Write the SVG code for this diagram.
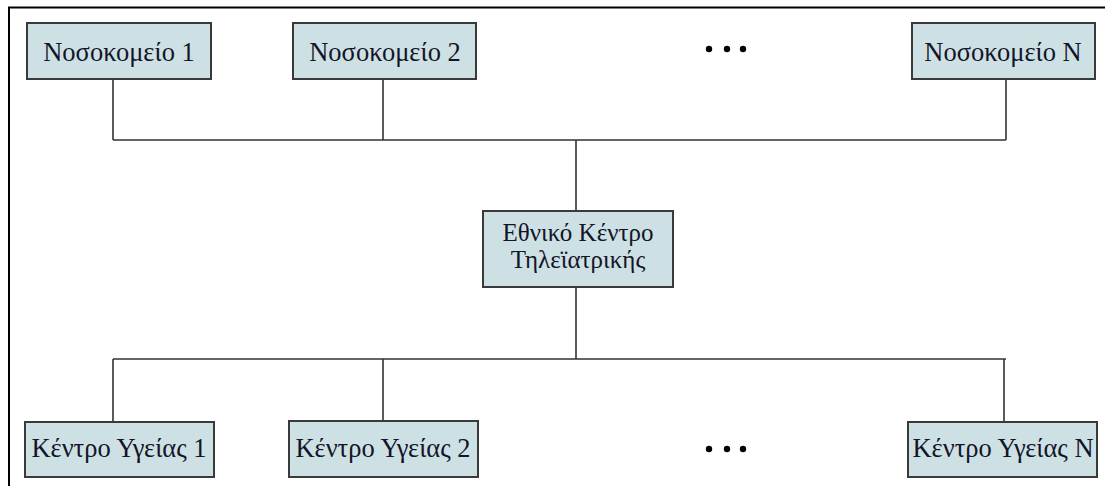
<svg xmlns="http://www.w3.org/2000/svg" width="1105" height="486" viewBox="0 0 1105 486">
  <style>
    .box { fill: #cde1e5; stroke: #3a3a3a; stroke-width: 2; }
    .lbl { font-family: "Liberation Serif", "Times New Roman", serif; font-size: 26.5px; fill: #141428; text-anchor: middle; }
    .lbl2 { font-size: 25px; }
    .wire { fill: none; stroke: #333; stroke-width: 1.6; }
    .dot { fill: #000; }
  </style>
  <rect width="1105" height="486" fill="#fff"/>
  <!-- outer frame: only top and left edges fall inside the page -->
  <path d="M9,490 V7.5 H1110" fill="none" stroke="#000" stroke-width="2"/>

  <g id="connectors">
    <path class="wire" d="M113,79 V140 M383,79 V140 M1006,79 V140 M113,140 H1006"/>
    <path class="wire" d="M576,140 V211"/>
    <path class="wire" d="M576,287 V359"/>
    <path class="wire" d="M113,359 H1006 M113,359 V422 M383,359 V421 M1004,359 V422"/>
  </g>

  <g id="hospital-1">
    <rect class="box" x="27" y="23" width="184" height="56"/>
    <text class="lbl" x="119" y="61">Νοσοκομείο 1</text>
  </g>
  <g id="hospital-2">
    <rect class="box" x="293" y="23" width="183" height="56"/>
    <text class="lbl" x="385" y="61">Νοσοκομείο 2</text>
  </g>
  <g id="hospital-dots">
    <circle class="dot" cx="709" cy="49" r="3.2"/>
    <circle class="dot" cx="727" cy="49" r="3.2"/>
    <circle class="dot" cx="743" cy="49" r="3.2"/>
  </g>
  <g id="hospital-n">
    <rect class="box" x="912" y="23" width="183" height="56"/>
    <text class="lbl" x="1003" y="61">Νοσοκομείο N</text>
  </g>

  <g id="national-center">
    <rect class="box" x="483" y="211" width="190" height="76"/>
    <text class="lbl lbl2" x="578" y="241">Εθνικό Κέντρο</text>
    <text class="lbl lbl2" x="578" y="268">Τηλεϊατρικής</text>
  </g>

  <g id="health-center-1">
    <rect class="box" x="25" y="422" width="189" height="55"/>
    <text class="lbl" x="119" y="457">Κέντρο Υγείας 1</text>
  </g>
  <g id="health-center-2">
    <rect class="box" x="289" y="421" width="189" height="56"/>
    <text class="lbl" x="383" y="457">Κέντρο Υγείας 2</text>
  </g>
  <g id="health-center-dots">
    <circle class="dot" cx="709" cy="449" r="3.2"/>
    <circle class="dot" cx="727" cy="449" r="3.2"/>
    <circle class="dot" cx="743" cy="449" r="3.2"/>
  </g>
  <g id="health-center-n">
    <rect class="box" x="908" y="422" width="189" height="55"/>
    <text class="lbl" x="1003" y="457">Κέντρο Υγείας N</text>
  </g>
</svg>
